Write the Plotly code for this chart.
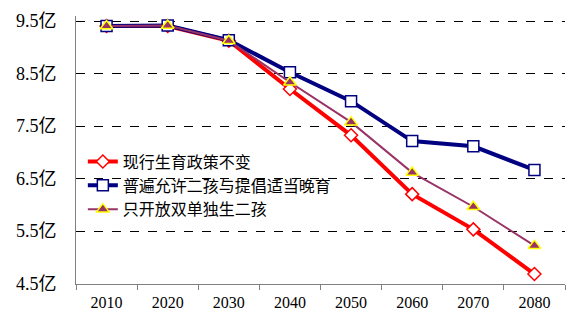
import plotly.graph_objects as go

years = ["2010", "2020", "2030", "2040", "2050", "2060", "2070", "2080"]
names = ["现行生育政策不变", "普遍允许二孩与提倡适当晚育", "只开放双单独生二孩"]
current_policy = [9.41, 9.41, 9.13, 8.21, 7.33, 6.21, 5.54, 4.69]
universal_two = [9.41, 9.42, 9.14, 8.53, 7.98, 7.22, 7.12, 6.67]
double_single = [9.41, 9.42, 9.13, 8.34, 7.58, 6.62, 5.97, 5.23]
ytick_vals = [4.5, 5.5, 6.5, 7.5, 8.5, 9.5]
ytick_text = ["4.5亿", "5.5亿", "6.5亿", "7.5亿", "8.5亿", "9.5亿"]

fig = go.Figure()
fig.add_trace(go.Scatter(
    x=years, y=current_policy, name=names[0], mode="lines+markers",
    line=dict(color="#FF0000", width=4),
    marker=dict(symbol="diamond", size=10, color="white", line=dict(color="#FF0000", width=1.5)),
))
fig.add_trace(go.Scatter(
    x=years, y=universal_two, name=names[1], mode="lines+markers",
    line=dict(color="#000080", width=4),
    marker=dict(symbol="square", size=11, color="white", line=dict(color="#000080", width=1.5)),
))
fig.add_trace(go.Scatter(
    x=years, y=double_single, name=names[2], mode="lines+markers",
    line=dict(color="#993366", width=2),
    marker=dict(symbol="triangle-up", size=11, color="#993366", line=dict(color="#FFFF00", width=1.5)),
))

for v, t in zip(ytick_vals, ytick_text):
    fig.add_annotation(
        x=0, xref="paper", y=v, yref="y", text=t, showarrow=False,
        xanchor="center", yanchor="middle", xshift=-40,
        font=dict(size=18, family="Liberation Serif, Noto Sans CJK SC", color="black"),
    )

fig.update_layout(
    width=572, height=327,
    margin=dict(l=76, r=7, t=16, b=43),
    paper_bgcolor="white", plot_bgcolor="white",
    font=dict(family="Liberation Serif, Noto Sans CJK SC", size=14, color="black"),
    showlegend=True,
    legend=dict(
        x=0.014, y=0.52, xanchor="left", yanchor="top",
        bgcolor="rgba(0,0,0,0)", font=dict(size=16, family="Noto Sans CJK SC"),
        tracegroupgap=0, itemwidth=30,
    ),
    xaxis=dict(
        type="category", showgrid=False, showline=True, linecolor="#808080", linewidth=1,
        ticks="outside", tickson="boundaries", ticklen=5, tickcolor="#808080",
        tickfont=dict(size=16, family="Liberation Serif"),
        range=[-0.5, 7.5], ticklabelstandoff=4,
    ),
    yaxis=dict(
        range=[4.5, 9.6], tickvals=ytick_vals, showticklabels=False,
        showgrid=True, gridcolor="black", griddash="dash", gridwidth=1,
        showline=True, linecolor="#808080", linewidth=1,
        ticks="", zeroline=False,
    ),
)

fig.write_html("out.html")
